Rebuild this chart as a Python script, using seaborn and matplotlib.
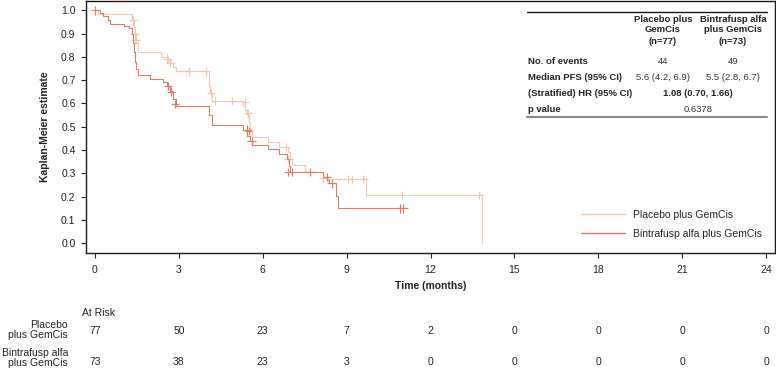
import numpy as np
import pandas as pd
import seaborn as sns
import matplotlib.pyplot as plt
from matplotlib.ticker import MultipleLocator
from matplotlib.lines import Line2D
import matplotlib.transforms as mtransforms

# ---------------- data ----------------
arm_names = ["Placebo plus GemCis", "Bintrafusp alfa plus GemCis"]

placebo_time = [0, 0.12, 1.33, 1.38, 1.43, 1.48, 1.54, 2.35, 2.62, 2.80, 2.90, 4.07, 4.12, 4.20,
                5.30, 5.38, 5.45, 5.50, 5.55, 5.62, 6.20, 6.58, 6.90, 6.97, 7.03, 7.50, 8.17, 8.25,
                9.70, 13.84]
placebo_surv = [1.0, 0.987, 0.96, 0.93, 0.895, 0.86, 0.821, 0.80, 0.775, 0.755, 0.738, 0.675, 0.645, 0.611,
                0.59, 0.57, 0.549, 0.52, 0.49, 0.456, 0.435, 0.413, 0.39, 0.36, 0.335, 0.306, 0.285, 0.275,
                0.206, 0.0]
placebo_cens_time = [1.35, 1.42, 1.45, 2.59, 2.70, 3.37, 3.97, 4.15, 4.29, 4.89, 5.36, 5.48,
                     6.83, 6.92, 8.17, 9.05, 9.20, 9.60, 10.98, 13.72]
placebo_cens_surv = [0.957, 0.90, 0.874, 0.793, 0.774, 0.738, 0.738, 0.645, 0.611, 0.611, 0.606, 0.557,
                     0.413, 0.36, 0.28, 0.275, 0.275, 0.275, 0.206, 0.206]

bintra_time = [0, 0.18, 0.29, 0.46, 0.54, 1.04, 1.23, 1.31, 1.36, 1.40, 1.44, 1.48, 1.53, 1.97, 2.44,
               2.56, 2.68, 2.80, 2.90, 4.07, 4.17, 5.30, 5.45, 5.55, 5.60, 6.20, 6.58, 6.88, 6.93, 6.97,
               8.17, 8.30, 8.38, 8.62, 8.70, 11.03]
bintra_surv = [1.0, 0.988, 0.976, 0.96, 0.943, 0.934, 0.925, 0.90, 0.86, 0.82, 0.78, 0.75, 0.721, 0.704, 0.692,
               0.675, 0.652, 0.62, 0.588, 0.55, 0.506, 0.485, 0.46, 0.438, 0.42, 0.403, 0.382, 0.36, 0.33, 0.306,
               0.285, 0.27, 0.256, 0.202, 0.149, 0.149]
bintra_cens_time = [0.0, 2.61, 2.73, 2.87, 5.42, 5.50, 5.60, 6.92, 7.03, 7.69, 8.29, 8.46, 10.90, 11.03]
bintra_cens_surv = [1.0, 0.674, 0.65, 0.597, 0.488, 0.482, 0.438, 0.306, 0.306, 0.306, 0.285, 0.256, 0.149, 0.149]

tick_months = [0, 3, 6, 9, 12, 15, 18, 21, 24]
risk_placebo = [77, 50, 23, 7, 2, 0, 0, 0, 0]
risk_bintra = [73, 38, 23, 3, 0, 0, 0, 0, 0]

table_cols = ["Placebo plus\nGemCis\n(n=77)", "Bintrafusp alfa\nplus GemCis\n(n=73)"]
table_rows = ["No. of events", "Median PFS (95% CI)", "(Stratified) HR (95% CI)", "p value"]
events = ["44", "49"]
median_pfs = ["5.6 (4.2, 6.9)", "5.5 (2.8, 6.7)"]
hr_text = "1.08 (0.70, 1.66)"
p_text = "0.6378"

colors = {"Placebo plus GemCis": "#F3C6AE", "Bintrafusp alfa plus GemCis": "#DE7E68"}

# ---------------- frames ----------------
curves = pd.concat([
    pd.DataFrame({"time": placebo_time, "surv": placebo_surv, "arm": arm_names[0]}),
    pd.DataFrame({"time": bintra_time, "surv": bintra_surv, "arm": arm_names[1]}),
], ignore_index=True)
cens = pd.concat([
    pd.DataFrame({"time": placebo_cens_time, "surv": placebo_cens_surv, "arm": arm_names[0]}),
    pd.DataFrame({"time": bintra_cens_time, "surv": bintra_cens_surv, "arm": arm_names[1]}),
], ignore_index=True)

# ---------------- style ----------------
sns.set_style("white")
plt.rcParams["font.family"] = ["Liberation Sans", "DejaVu Sans"]
txt = "#222222"

W, H = 776, 374
fig = plt.figure(figsize=(W / 100, H / 100), dpi=100)

def fx(px):
    return px / W

def fy(py):
    return 1 - py / H

ax = fig.add_axes([fx(86), fy(253), fx(775) - fx(86), fy(0.5) - fy(253)])

sns.lineplot(data=curves, x="time", y="surv", hue="arm", palette=colors,
             estimator=None, sort=False, drawstyle="steps-post",
             linewidth=0.8, legend=False, ax=ax)
sns.scatterplot(data=cens, x="time", y="surv", hue="arm", palette=colors,
                marker="+", s=36, linewidth=0.85, legend=False, ax=ax)

ax.set_xlim(-0.32, 24.32)
ax.set_xticks(tick_months)
ax.set_xticklabels([str(m) for m in tick_months])
ax.yaxis.set_major_locator(MultipleLocator(0.1))
ax.yaxis.set_minor_locator(MultipleLocator(0.05))
ax.set_ylim(-0.043, 1.043)
ax.set_yticks([i / 10 for i in range(11)])
ax.set_yticklabels([f"{i / 10:.1f}" for i in range(11)])
ax.tick_params(axis="both", which="major", direction="out", length=3.5, width=0.8,
               colors=txt, labelsize=7.5, pad=4)
ax.tick_params(axis="y", which="minor", direction="out", length=2, width=0.8, colors=txt)
ax.tick_params(axis="x", which="major", pad=5)
ax.tick_params(left=True, bottom=True)
for s in ax.spines.values():
    s.set_visible(True)
    s.set_color("#1a1a1a")
    s.set_linewidth(1.0)

ax.set_xlabel("Time (months)", fontsize=7.5, fontweight="bold", color=txt)
ax.set_ylabel("Kaplan-Meier estimate", fontsize=7.5, fontweight="bold", color=txt)
ax.xaxis.set_label_coords(0.5, -0.11)
ax.yaxis.set_label_coords(-0.052, 0.5)

handles = [Line2D([0], [0], color=colors[a], lw=1.0) for a in arm_names]
ax.legend(handles, arm_names, loc="lower right", bbox_to_anchor=(0.995, 0.02),
          frameon=False, fontsize=7.5, handlelength=4.2, handletextpad=0.8,
          labelspacing=0.85, labelcolor=txt)

# ---------------- summary table ----------------
fig.add_artist(Line2D([fx(527), fx(767)], [fy(11.5), fy(11.5)], color="#1a1a1a", lw=1.0))
fig.add_artist(Line2D([fx(527), fx(767)], [fy(117), fy(117)], color="#8a8a8a", lw=1.5))
col_x = [663, 733]
for cx, label in zip(col_x, table_cols):
    l1, l2, l3 = label.split("\n")
    fig.text(fx(cx), fy(19), l1, ha="center", va="center", fontsize=6.8, fontweight="bold", color=txt)
    fig.text(fx(cx), fy(29.5), l2, ha="center", va="center", fontsize=6.8, fontweight="bold", color=txt)
    fig.text(fx(cx), fy(42), l3, ha="center", va="center", fontsize=6.8, fontweight="bold", color=txt)
row_y = [61, 78, 94, 109]
for ry, label in zip(row_y, table_rows):
    fig.text(fx(528), fy(ry), label, ha="left", va="center", fontsize=6.8, fontweight="bold", color=txt)
for cx, e, m in zip(col_x, events, median_pfs):
    fig.text(fx(cx), fy(row_y[0]), e, ha="center", va="center", fontsize=6.8, color="#333333")
    fig.text(fx(cx), fy(row_y[1]), m, ha="center", va="center", fontsize=6.8, color="#333333")
fig.text(fx(698), fy(row_y[2]), hr_text, ha="center", va="center", fontsize=6.8, fontweight="bold", color=txt)
fig.text(fx(698), fy(row_y[3]), p_text, ha="center", va="center", fontsize=6.8, color="#333333")

# ---------------- at-risk table ----------------
fig.text(fx(82), fy(313), "At Risk", ha="left", va="center", fontsize=7.5, color=txt)
fig.text(fx(68), fy(330), "Placebo\nplus GemCis", ha="right", va="center", fontsize=7.5,
         color=txt, linespacing=1.05)
fig.text(fx(68), fy(358), "Bintrafusp alfa\nplus GemCis", ha="right", va="center", fontsize=7.5,
         color=txt, linespacing=1.05)
trans = mtransforms.blended_transform_factory(ax.transData, fig.transFigure)
for m, r1, r2 in zip(tick_months, risk_placebo, risk_bintra):
    ax.text(m, fy(331), str(r1), transform=trans, ha="center", va="center", fontsize=7.5, color=txt)
    ax.text(m, fy(362), str(r2), transform=trans, ha="center", va="center", fontsize=7.5, color=txt)

fig.savefig("out.png", dpi=100)
